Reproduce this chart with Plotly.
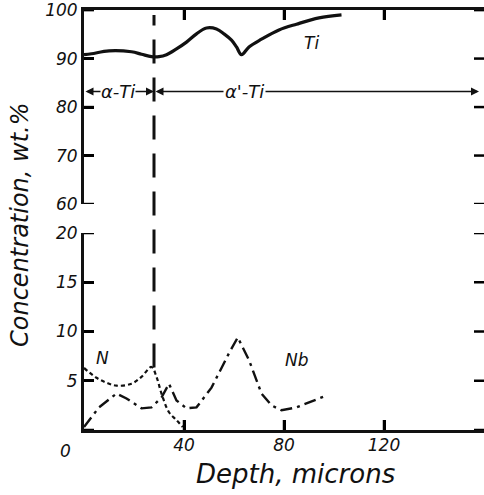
import plotly.graph_objects as go

# Depth profiles (depth in microns, concentration in wt.%)
ti_depth = [0, 3, 10, 19, 23, 27, 30, 33, 37, 41, 45, 49, 53, 56, 59, 61, 63, 66, 71, 78, 85, 94, 103]
ti_conc = [90.8, 91.0, 91.6, 91.4, 90.9, 90.4, 90.4, 90.8, 92.0, 93.4, 95.1, 96.3, 96.1, 95.1, 93.8, 92.4, 90.8, 92.4, 94.0, 95.9, 97.1, 98.4, 99.0]

n_depth = [0, 5, 9, 13, 19, 23, 27, 29, 31, 34, 37, 39.5]
n_conc = [6.3, 5.3, 4.8, 4.5, 4.7, 5.4, 6.4, 5.4, 3.7, 1.8, 1.0, 0.3]

nb_depth = [0, 6, 13, 17, 23, 27, 31, 34, 37, 41, 45, 51, 58, 61.5, 66, 71, 75, 79, 85, 91, 97]
nb_conc = [0.3, 2.3, 3.7, 3.2, 2.2, 2.3, 3.3, 4.7, 3.0, 2.2, 2.3, 4.3, 7.8, 9.4, 7.1, 3.7, 2.5, 2.0, 2.3, 2.9, 3.5]

# Axis ticks
x_ticks = [40, 80, 120]
upper_ticks = [60, 70, 80, 90, 100]
lower_ticks = [0, 5, 10, 15, 20]

# Phase boundary between alpha-Ti and alpha'-Ti
boundary_depth = 28
phase_level = 83.2
x_max = 160
upper_range = [60, 100.02]
lower_range = [0, 20]

FONT = "DejaVu Sans"
BLACK = "#111111"
TICK_LEN = 10

fig = go.Figure()

fig.add_trace(go.Scatter(x=ti_depth, y=ti_conc, xaxis="x2", yaxis="y2", mode="lines",
                         line=dict(color=BLACK, width=3.2), line_shape="spline"))
fig.add_trace(go.Scatter(x=n_depth, y=n_conc, xaxis="x", yaxis="y", mode="lines",
                         line=dict(color=BLACK, width=2.2, dash="4px,3px"), line_shape="spline"))
fig.add_trace(go.Scatter(x=nb_depth, y=nb_conc, xaxis="x", yaxis="y", mode="lines",
                         line=dict(color=BLACK, width=2.4, dash="12px,5px,3px,5px")))

axis_common = dict(showline=True, linewidth=2.8, linecolor=BLACK, ticks="inside",
                   ticklen=TICK_LEN, tickwidth=2.5, tickcolor="black",
                   showgrid=False, zeroline=False)

fig.update_layout(
    width=484, height=495,
    margin=dict(l=84, r=0, t=8, b=65),
    paper_bgcolor="white", plot_bgcolor="white",
    showlegend=False,
    font=dict(family=FONT, size=17, color=BLACK, style="italic"),
    xaxis=dict(domain=[0, 1], range=[0, x_max], anchor="y", tickvals=x_ticks,
               ticktext=[str(v) for v in x_ticks], ticklabelstandoff=-2, **axis_common),
    xaxis2=dict(domain=[0, 1], range=[0, x_max], anchor="y2", side="top", matches="x",
                tickvals=x_ticks, showticklabels=False, **axis_common),
    yaxis=dict(domain=[0, 0.469], range=lower_range, anchor="x", tickvals=lower_ticks,
               ticktext=["" if v == 0 else str(v) for v in lower_ticks], **axis_common),
    yaxis2=dict(domain=[0.538, 1], range=upper_range, anchor="x2", tickvals=upper_ticks,
                ticktext=[str(v) for v in upper_ticks], **axis_common),
)

# Inward tick marks on every frame side
tick_line = dict(color="black", width=2.5)
for yref, vals in [("y", lower_ticks), ("y2", upper_ticks)]:
    xref = "x" if yref == "y" else "x2"
    for v in vals:
        fig.add_shape(type="line", xref=xref, yref=yref, xsizemode="pixel", xanchor=0,
                      x0=0, x1=TICK_LEN, y0=v, y1=v, line=tick_line)
        fig.add_shape(type="line", xref=xref, yref=yref, xsizemode="pixel", xanchor=x_max,
                      x0=-TICK_LEN, x1=0, y0=v, y1=v, line=tick_line)
for v in x_ticks:
    fig.add_shape(type="line", xref="x", yref="y", ysizemode="pixel", yanchor=lower_range[0],
                  y0=0, y1=TICK_LEN, x0=v, x1=v, line=tick_line)
    fig.add_shape(type="line", xref="x2", yref="y2", ysizemode="pixel", yanchor=upper_range[1],
                  y0=0, y1=-TICK_LEN, x0=v, x1=v, line=tick_line)

# Phase boundary
fig.add_shape(type="line", xref="x", yref="paper", x0=boundary_depth, x1=boundary_depth,
              y0=0.149, y1=0.988, line=dict(color=BLACK, width=3, dash="24px,14px"))

# Phase range arrows
for x_start, x_end in [(0, boundary_depth), (boundary_depth, 158)]:
    fig.add_annotation(x=x_end, y=phase_level, ax=x_start, ay=phase_level, xref="x2", yref="y2",
                       axref="x2", ayref="y2", text="", showarrow=True, arrowside="end+start",
                       arrowhead=2, arrowsize=1, arrowwidth=1.6, arrowcolor=BLACK)
fig.add_annotation(x=13.5, y=phase_level, xref="x2", yref="y2", text="α-Ti", showarrow=False,
                   bgcolor="white", borderpad=0, font=dict(size=18))
fig.add_annotation(x=64, y=phase_level, xref="x2", yref="y2", text="α'-Ti", showarrow=False,
                   bgcolor="white", borderpad=1, font=dict(size=18))

# Curve labels
fig.add_annotation(x=91, y=93.2, xref="x2", yref="y2", text="Ti", showarrow=False, font=dict(size=17))
fig.add_annotation(x=7.5, y=7.3, xref="x", yref="y", text="N", showarrow=False, font=dict(size=17))
fig.add_annotation(x=85, y=7.1, xref="x", yref="y", text="Nb", showarrow=False, font=dict(size=17))

# Origin label
fig.add_annotation(x=0, y=0, xref="x", yref="y", text="0", showarrow=False, xanchor="center",
                   yanchor="top", xshift=-19, yshift=-9, font=dict(size=17))

# Axis titles
fig.add_annotation(x=(295 - 84) / 400, y=(430 - 474) / 422, xref="paper", yref="paper",
                   xanchor="center", yanchor="middle", text="Depth, microns", showarrow=False,
                   font=dict(size=26))
fig.add_annotation(x=(20 - 84) / 400, y=(430 - 224) / 422, xref="paper", yref="paper",
                   xanchor="center", yanchor="middle", text="Concentration, wt.%",
                   textangle=-90, showarrow=False, font=dict(size=24))

fig.write_html("out.html")
